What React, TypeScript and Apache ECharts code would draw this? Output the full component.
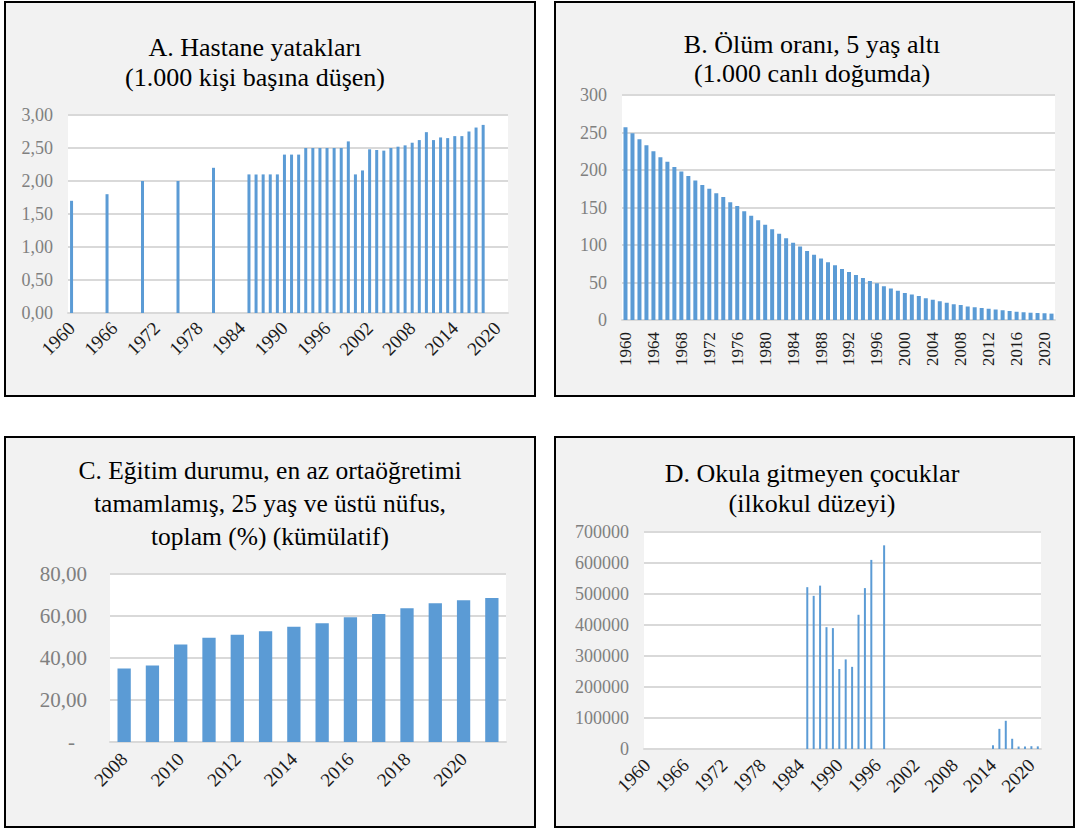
import React, { useEffect, useRef } from "react";
import * as echarts from "echarts";

const years = [
  "1960","1961","1962","1963","1964","1965","1966","1967","1968","1969",
  "1970","1971","1972","1973","1974","1975","1976","1977","1978","1979",
  "1980","1981","1982","1983","1984","1985","1986","1987","1988","1989",
  "1990","1991","1992","1993","1994","1995","1996","1997","1998","1999",
  "2000","2001","2002","2003","2004","2005","2006","2007","2008","2009",
  "2010","2011","2012","2013","2014","2015","2016","2017","2018","2019",
  "2020","2021",
];
const yearsC = ["2008","2009","2010","2011","2012","2013","2014","2015","2016","2017","2018","2019","2020","2021"];

// A. Hospital beds per 1,000 people
const hospitalBeds = [
  1.7, null, null, null, null, 1.8, null, null, null, null,
  2.0, null, null, null, null, 2.0, null, null, null, null,
  2.2, null, null, null, null, 2.1, 2.1, 2.1, 2.1, 2.1,
  2.4, 2.4, 2.4, 2.5, 2.5, 2.5, 2.5, 2.5, 2.5, 2.6,
  2.1, 2.16, 2.48, 2.47, 2.46, 2.5, 2.52, 2.54, 2.58, 2.62,
  2.74, 2.62, 2.66, 2.65, 2.68, 2.68, 2.75, 2.81, 2.85, null,
  null, null,
];
// B. Under-5 mortality per 1,000 live births
const under5Mortality = [
  257, 249, 241, 233, 225, 217, 211, 204, 198, 192,
  186, 180, 175, 169, 164, 157, 152, 145, 139, 133,
  127, 121, 115, 109, 103, 98, 92, 87, 82, 77,
  73, 68, 64, 60, 56, 52, 49, 45, 42, 39,
  36, 34, 32, 29, 27, 25, 23, 21, 20, 18,
  17, 16, 15, 14, 13, 12, 11, 10.5, 9.7, 9.3,
  9, 8.5,
];
// C. Educational attainment, at least secondary, 25+
const secondaryEdu = [35.0, 36.4, 46.4, 49.6, 51.1, 52.7, 54.9, 56.5, 59.4, 61.0, 63.7, 66.1, 67.5, 68.6];
// D. Out-of-school children (primary)
const outOfSchool = [
  null, null, null, null, null, null, null, null, null, null,
  null, null, null, null, null, null, null, null, null, null,
  null, null, null, null, null, 522000, 494000, 527000, 393000, 390000,
  258000, 289000, 265000, 433000, 519000, 610000, null, 657000, null, null,
  null, null, null, null, null, null, null, null, null, null,
  null, null, null, null, 12000, 65000, 91000, 33000, 8000, 8000,
  9000, 8500,
];

const titles = [
  "A. Hastane yatakları\n(1.000 kişi başına düşen)",
  "B. Ölüm oranı, 5 yaş altı\n(1.000 canlı doğumda)",
  "C. Eğitim durumu, en az ortaöğretimi\ntamamlamış, 25 yaş ve üstü nüfus,\ntoplam (%) (kümülatif)",
  "D. Okula gitmeyen çocuklar\n(ilkokul düzeyi)",
];

const FONT = "Liberation Serif";
const BAR = "#5b9bd5";
const GRIDC = "#d9d9d9";

export default function App() {
  const ref = useRef<HTMLDivElement>(null);
  useEffect(() => {
    const chart = echarts.init(ref.current!, null, { renderer: "svg" });

    const xAxisBase = (idx: number, data: string[], rotate: number, interval: number, margin: number, fontSize: number) => ({
      type: "category",
      gridIndex: idx,
      data,
      boundaryGap: true,
      axisTick: { show: false },
      axisLine: { show: true, lineStyle: { color: GRIDC, width: 2 } },
      axisLabel: {
        rotate,
        interval,
        margin,
        fontFamily: FONT,
        fontSize,
        color: "#1a1a1a",
      },
    });
    const yAxisBase = (idx: number, max: number, interval: number, fontSize: number, margin: number, formatter: any) => ({
      type: "value",
      gridIndex: idx,
      min: 0,
      max,
      interval,
      axisLine: { show: false },
      axisTick: { show: false },
      splitLine: { show: true, lineStyle: { color: GRIDC, width: 2 } },
      axisLabel: {
        margin,
        fontFamily: FONT,
        fontSize,
        color: "#808080",
        formatter,
        rich: { z: { fontFamily: FONT, fontSize, color: "#808080", padding: [0, 12, 0, 0] } },
      },
    });

    const panel = (x: number, y: number, w: number, h: number) => ({
      type: "rect",
      z: -100,
      shape: { x, y, width: w, height: h },
      style: { fill: "#f2f2f2", stroke: "#000", lineWidth: 2 },
    });
    const titleText = (x: number, y: number, text: string, fs: number, lh: number) => ({
      type: "text",
      z: 10,
      x,
      y,
      style: {
        text,
        fill: "#000",
        fontSize: fs,
        fontFamily: FONT,
        lineHeight: lh,
        align: "center",
        verticalAlign: "top",
      },
    });

    const option: any = {
      animation: false,
      backgroundColor: "#ffffff",
      textStyle: { fontFamily: FONT },
      graphic: [
        panel(5, 2, 530, 394),
        panel(555, 2, 519, 394),
        panel(5, 437, 530, 390),
        panel(555, 437, 519, 390),
        titleText(255, 32, titles[0], 26, 30),
        titleText(812, 30, titles[1], 26, 29),
        titleText(270, 454, titles[2], 25.5, 33),
        titleText(812, 458, titles[3], 26, 30),
      ],
      grid: [
        { left: 68, top: 115, width: 440, height: 198, show: true, backgroundColor: "#fff", borderWidth: 0 },
        { left: 622, top: 95, width: 433, height: 225, show: true, backgroundColor: "#fff", borderWidth: 0 },
        { left: 110, top: 574, width: 396, height: 168, show: true, backgroundColor: "#fff", borderWidth: 0 },
        { left: 644, top: 532, width: 397, height: 217, show: true, backgroundColor: "#fff", borderWidth: 0 },
      ],
      xAxis: [
        xAxisBase(0, years, 45, 5, 12, 19),
        xAxisBase(1, years, 90, 3, 12, 17),
        xAxisBase(2, yearsC, 45, 1, 14, 19),
        xAxisBase(3, years, 45, 5, 13, 19),
      ],
      yAxis: [
        yAxisBase(0, 3, 0.5, 18, 15, (v: number) => v.toFixed(2).replace(".", ",")),
        yAxisBase(1, 300, 50, 18, 15, (v: number) => String(v)),
        yAxisBase(2, 80, 20, 21, 23, (v: number) => (v === 0 ? "{z|-}" : v.toFixed(2).replace(".", ","))),
        yAxisBase(3, 700000, 100000, 18, 15, (v: number) => String(v)),
      ],
      series: [
        { type: "bar", xAxisIndex: 0, yAxisIndex: 0, data: hospitalBeds, barWidth: 3, itemStyle: { color: BAR } },
        { type: "bar", xAxisIndex: 1, yAxisIndex: 1, data: under5Mortality, barWidth: 4, itemStyle: { color: BAR } },
        { type: "bar", xAxisIndex: 2, yAxisIndex: 2, data: secondaryEdu, barWidth: "47%", itemStyle: { color: BAR } },
        { type: "bar", xAxisIndex: 3, yAxisIndex: 3, data: outOfSchool, barWidth: 2, itemStyle: { color: BAR } },
      ],
    };
    chart.setOption(option);
    return () => chart.dispose();
  }, []);
  return (
    <div
      ref={ref}
      style={{ position: "fixed", left: 0, top: 0, width: 1078, height: 830, background: "#fff" }}
    />
  );
}
